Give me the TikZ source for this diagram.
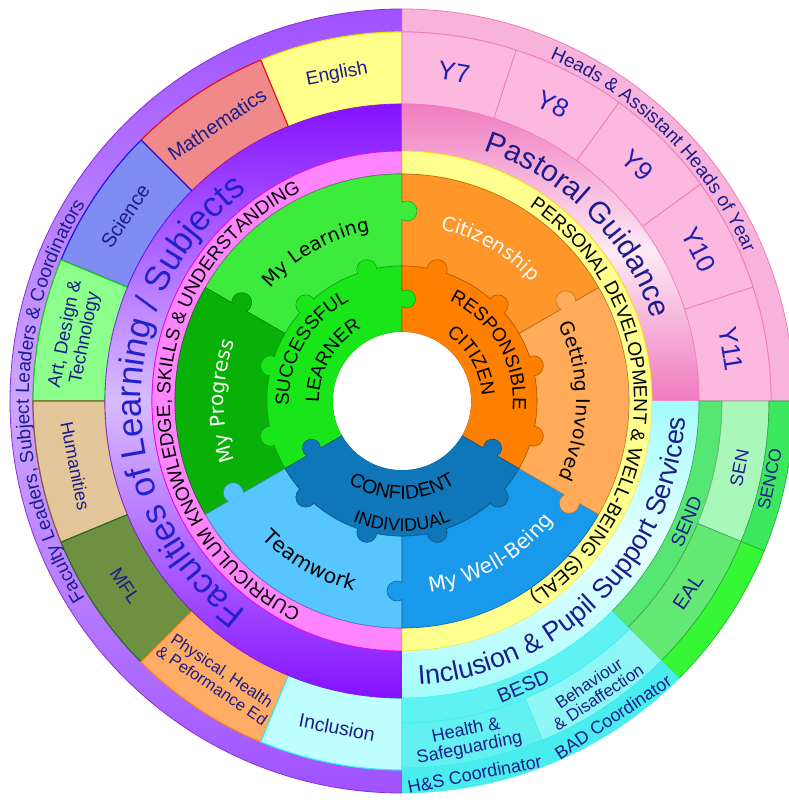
\documentclass[tikz,border=0pt]{standalone}
\usepackage{fontspec}
\setmainfont{Liberation Sans}
\newfontfamily\innerfont{DejaVu Sans}
\usetikzlibrary{decorations.text}

\definecolor{leadpurple}{HTML}{9F50FF}
\definecolor{leadlight}{HTML}{CDA6FF}
\definecolor{leadline}{HTML}{8A2BE2}
\definecolor{engfill}{HTML}{FFFF8C}
\definecolor{engline}{HTML}{F2E200}
\definecolor{mathfill}{HTML}{F08A8A}
\definecolor{mathline}{HTML}{E8101A}
\definecolor{scifill}{HTML}{7F8CF2}
\definecolor{sciline}{HTML}{1A1AE6}
\definecolor{adtfill}{HTML}{8CFF8C}
\definecolor{adtline}{HTML}{1FCC1F}
\definecolor{humfill}{HTML}{E3C79B}
\definecolor{humline}{HTML}{8C5A2E}
\definecolor{mflfill}{HTML}{6E9141}
\definecolor{mflline}{HTML}{2F6B1E}
\definecolor{pefill}{HTML}{FFAD66}
\definecolor{peline}{HTML}{FF8C1A}
\definecolor{inclfill}{HTML}{BFFFFF}
\definecolor{inclline}{HTML}{33EEEE}
\definecolor{facdark}{HTML}{8410FF}
\definecolor{faclight}{HTML}{D8BCFF}
\definecolor{currpink}{HTML}{FF85FF}
\definecolor{currline}{HTML}{F000F0}
\definecolor{headpink}{HTML}{F8B3DA}
\definecolor{yearfill}{HTML}{FCB8DE}
\definecolor{yearline}{HTML}{EE7DBE}
\definecolor{pastdark}{HTML}{F07ABF}
\definecolor{pastlight}{HTML}{FDEAF5}
\definecolor{sealyellow}{HTML}{FFFF8F}
\definecolor{sealline}{HTML}{FFE000}
\definecolor{incdark}{HTML}{A4FCFC}
\definecolor{inclight}{HTML}{E6FFFF}
\definecolor{sendgreen}{HTML}{55E673}
\definecolor{sengreen}{HTML}{A9F7B9}
\definecolor{ealgreen}{HTML}{62E873}
\definecolor{sencogreen}{HTML}{3BE85E}
\definecolor{brightgreen}{HTML}{36F736}
\definecolor{besdcyan}{HTML}{5EF2F2}
\definecolor{hscyan}{HTML}{62F0F0}
\definecolor{badcyan}{HTML}{8FF6F6}
\definecolor{coordcyan}{HTML}{4AEDED}
\definecolor{learnergreen}{HTML}{19E619}
\definecolor{citizenorange}{HTML}{FF7F00}
\definecolor{confidentblue}{HTML}{0F76B9}
\definecolor{mylearning}{HTML}{3DEB3D}
\definecolor{myprogress}{HTML}{08B008}
\definecolor{teamwork}{HTML}{57C6FF}
\definecolor{wellbeing}{HTML}{1899EB}
\definecolor{involved}{HTML}{FFAB5A}
\definecolor{citizenship}{HTML}{FF9629}
\definecolor{navytext}{HTML}{1C1C8C}
\definecolor{titleblue}{HTML}{2222C8}
\definecolor{yeartext}{HTML}{2020B0}

% ring sector: style, inner radius, outer radius, start angle, end angle
\newcommand{\ringpiece}[5]{\path[#1] (#4:#2pt) arc[start angle=#4,end angle=#5,radius=#2pt] -- (#5:#3pt) arc[start angle=#5,end angle=#4,radius=#3pt] -- cycle;}
% text on an arc: radius, from, to, format, text
\newcommand{\arclabel}[5]{\path[decorate,decoration={text along path,text align=center,text={|#4|#5}}] (#2:#1pt) arc[start angle=#2,end angle=#3,radius=#1pt];}
% puzzle tab: colour, edge angle, radius, side, size
\newcommand{\jigtab}[5]{%
  \fill[#1,rotate=#2] (#3,#4*#5/2) circle[radius=#5pt];
  \begin{scope}
    \clip[rotate=#2] (0,0) rectangle (420,#4*420);
    \draw[#1!70!black,line width=0.6pt,rotate=#2] (#3,#4*#5/2) circle[radius=#5pt];
  \end{scope}}

\begin{document}
\begin{tikzpicture}[x=1pt,y=1pt,
  piece/.style={fill=#1,draw=#1!70!black,line width=0.6pt},
  subj/.style={text=navytext,font=\fontsize{19}{20}\selectfont,align=center,inner sep=0pt},
  yearlbl/.style={text=yeartext,font=\fontsize{26}{26}\selectfont,inner sep=0pt},
  svc/.style={text=navytext,font=\fontsize{18}{18}\selectfont,align=center,inner sep=0pt}]
\useasboundingbox (-402,-399) rectangle (386,401);
\fill[white] (-402,-399) rectangle (386,401);

% faculties half
\begin{scope}
  \ringpiece{clip}{369}{392}{90}{270}
  \shade[top color=leadpurple,bottom color=leadpurple,middle color=leadlight] (-400,-400) rectangle (0,400);
\end{scope}
\ringpiece{draw=leadline,line width=0.8pt}{369}{392}{90}{270}
\foreach \a/\b/\c/\d in {90/112.5/engfill/engline,112.5/135/mathfill/mathline,135/157.5/scifill/sciline,157.5/180/adtfill/adtline,180/202.5/humfill/humline,202.5/225/mflfill/mflline,225/247.5/pefill/peline,247.5/270/inclfill/inclline}
  {\ringpiece{fill=\c,draw=\d,line width=1.2pt}{297}{369}{\a}{\b}}
\begin{scope}
  \ringpiece{clip}{250}{297}{90}{270}
  \shade[top color=facdark,bottom color=facdark,middle color=faclight] (-300,-300) rectangle (0,300);
\end{scope}
\ringpiece{draw=facdark,line width=0.6pt}{250}{297}{90}{270}
\ringpiece{fill=currpink,draw=currline,line width=0.8pt}{227}{250}{90}{270}

% pastoral quarter
\ringpiece{fill=headpink,draw=yearline,line width=0.8pt}{369}{392}{0}{90}
\foreach \a [evaluate=\a as \b using \a+18] in {0,18,36,54,72}
  {\ringpiece{fill=yearfill,draw=yearline,line width=0.8pt}{297}{369}{\a}{\b}}
\begin{scope}
  \ringpiece{clip}{250}{297}{0}{90}
  \shade[shading angle=45,top color=pastdark,bottom color=pastdark,middle color=pastlight] (0,0) rectangle (300,300);
\end{scope}
\ringpiece{draw=yearline,line width=0.6pt}{250}{297}{0}{90}
\ringpiece{fill=sealyellow,draw=sealline,line width=0.8pt}{227}{250}{-90}{90}

% inclusion quarter
\begin{scope}
  \ringpiece{clip}{250}{297}{-90}{0}
  \shade[shading angle=-45,top color=incdark,bottom color=incdark,middle color=inclight] (0,0) rectangle (300,-300);
\end{scope}
\ringpiece{piece=sendgreen}{297}{320}{-45}{0}
\ringpiece{piece=sengreen}{320}{367}{-22.5}{0}
\ringpiece{piece=ealgreen}{320}{367}{-45}{-22.5}
\ringpiece{piece=sencogreen}{367}{392}{-22.5}{0}
\ringpiece{piece=brightgreen}{367}{392}{-45}{-22.5}
\ringpiece{fill=besdcyan,draw=inclline}{297}{322}{-90}{-45}
\ringpiece{fill=hscyan,draw=inclline}{322}{367}{-90}{-67.5}
\ringpiece{fill=badcyan,draw=inclline}{322}{367}{-67.5}{-45}
\ringpiece{fill=coordcyan,draw=inclline}{367}{392}{-90}{-67.5}
\ringpiece{fill=coordcyan,draw=inclline}{367}{392}{-67.5}{-45}

% six outcome pieces
\ringpiece{piece=mylearning}{135}{227}{90}{150}
\ringpiece{piece=myprogress}{135}{227}{150}{210}
\ringpiece{piece=teamwork}{135}{227}{210}{270}
\ringpiece{piece=wellbeing}{135}{227}{270}{330}
\ringpiece{piece=involved}{135}{227}{-30}{30}
\ringpiece{piece=citizenship}{135}{227}{30}{90}
\foreach \c/\a/\r/\s in {mylearning/90/190/-1,involved/30/192/1,involved/-30/196/-1,wellbeing/270/190/-1,teamwork/210/192/-1,myprogress/150/188/-1}
  {\jigtab{\c}{\a}{\r}{\s}{10}}

% gear
\foreach \a/\c in {105/learnergreen,135/learnergreen,165/learnergreen,195/learnergreen,-15/citizenorange,15/citizenorange,45/citizenorange,75/citizenorange,225/confidentblue,255/confidentblue,285/confidentblue,315/confidentblue}
  \filldraw[fill=\c,draw=\c!70!black,line width=0.6pt] (\a:136pt) circle[radius=10pt];
\ringpiece{piece=learnergreen}{69}{135}{90}{210}
\ringpiece{piece=citizenorange}{69}{135}{-30}{90}
\ringpiece{piece=confidentblue}{69}{135}{210}{330}
\foreach \a/\c in {105/learnergreen,135/learnergreen,165/learnergreen,195/learnergreen,-15/citizenorange,15/citizenorange,45/citizenorange,75/citizenorange,225/confidentblue,255/confidentblue,285/confidentblue,315/confidentblue}
  \fill[\c] (\a:136pt) circle[radius=9.2pt];
\foreach \c/\a/\s in {learnergreen/90/-1,confidentblue/210/-1,confidentblue/330/1}
  {\jigtab{\c}{\a}{102}{\s}{9}}
\fill[white] (0,0) circle[radius=69pt];

% ring titles
\arclabel{373}{240}{120}{\fontsize{19}{19}\selectfont\color{navytext}}{Faculty Leaders, Subject Leaders {\&} Coordinators}
\arclabel{373}{90}{0}{\fontsize{19}{19}\selectfont\color{navytext}}{Heads {\&} Assistant Heads of Year}
\arclabel{261}{265}{95}{\fontsize{35}{35}\selectfont\color{titleblue}}{Faculties of Learning / Subjects}
\arclabel{263}{90}{0}{\fontsize{30}{30}\selectfont\color{navytext}}{Pastoral Guidance}
\arclabel{284}{-95}{5}{\fontsize{27}{27}\selectfont\color{navytext}}{Inclusion {\&} Pupil Support Services}
\arclabel{232}{265}{95}{\fontsize{19}{19}\selectfont\color{black}}{CURRICULUM KNOWLEDGE, SKILLS {\&} UNDERSTANDING}
\arclabel{232}{90}{-90}{\fontsize{19}{19}\selectfont\color{black}}{PERSONAL DEVELOPMENT {\&} WELL-BEING (SEAL)}

% outcome labels
\arclabel{173}{150}{90}{\innerfont\fontsize{19}{19}\selectfont\color{black}}{My Learning}
\arclabel{176}{90}{30}{\innerfont\fontsize{19.5}{19}\selectfont\color{white}}{Citizenship}
\arclabel{174}{30}{-30}{\innerfont\fontsize{19}{19}\selectfont\color{black}}{Getting Involved}
\arclabel{193}{-90}{-30}{\innerfont\fontsize{20.5}{19}\selectfont\color{white}}{My Well-Being}
\arclabel{196}{210}{270}{\innerfont\fontsize{20.5}{19}\selectfont\color{black}}{Teamwork}
\arclabel{178}{210}{150}{\innerfont\fontsize{20}{19}\selectfont\color{white}}{My Progress}
\arclabel{113}{210}{90}{\fontsize{19}{19}\selectfont\color{black}}{SUCCESSFUL}
\arclabel{83}{210}{90}{\fontsize{19}{19}\selectfont\color{black}}{LEARNER}
\arclabel{111}{90}{-30}{\fontsize{19}{19}\selectfont\color{black}}{RESPONSIBLE}
\arclabel{80}{90}{-30}{\fontsize{19}{19}\selectfont\color{black}}{CITIZEN}
\arclabel{98}{210}{330}{\fontsize{19.5}{19}\selectfont\color{black}}{CONFIDENT}
\arclabel{130}{210}{330}{\fontsize{18}{18}\selectfont\color{black}}{INDIVIDUAL}

% subject boxes
\node (english) at (101.25:333pt) [subj,rotate=11.25] {English};
\node (maths) at (123.75:333pt) [subj,rotate=33.75,font=\fontsize{20}{20}\selectfont] {Mathematics};
\node (science) at (146.25:333pt) [subj,rotate=56.25,font=\fontsize{20}{20}\selectfont] {Science};
\node (adt) at (168.75:333pt) [subj,rotate=78.75,font=\fontsize{18.5}{20}\selectfont] {Art, Design \&\\Technology};
\node (humanities) at (191.25:333pt) [subj,rotate=-78.75,font=\fontsize{18}{18}\selectfont] {Humanities};
\node (mfl) at (213.75:333pt) [subj,rotate=-56.25] {MFL};
\node (pe) at (236.25:333pt) [subj,rotate=-33.75,font=\fontsize{16.5}{18}\selectfont] {Physical, Health\\\& Peformance Ed};
\node (inclusion) at (258.75:333pt) [subj,rotate=-11.25,font=\fontsize{19.5}{20}\selectfont] {Inclusion};

% year boxes
\foreach \a [count=\i from 7, evaluate=\a as \m using 81-18*(\i-7)] in {72,54,36,18,0}
  \node (y\i) at (\m:333pt) [yearlbl,rotate=\m-90] {Y\i};

% support services
\node (send) at (-23:309pt) [svc,rotate=67,font=\fontsize{19}{19}\selectfont] {SEND};
\node (sen) at (-11.25:344pt) [svc,rotate=78.75] {SEN};
\node (eal) at (-33.75:344pt) [svc,rotate=56.25,font=\fontsize{20}{20}\selectfont] {EAL};
\node (senco) at (-12:376pt) [svc,rotate=78,font=\fontsize{17.5}{17.5}\selectfont] {SENCO};
\node (besd) at (-67:310pt) [svc,rotate=23,font=\fontsize{20}{20}\selectfont] {BESD};
\node (health) at (-79:345pt) [svc,rotate=11.25] {Health \&\\Safeguarding};
\node (behaviour) at (-56.5:347pt) [svc,rotate=33.75,font=\fontsize{17}{17}\selectfont] {Behaviour\\\& Disaffection};
\node (hscoord) at (-79:380pt) [svc,rotate=11.25] {H\&S Coordinator};
\node (badcoord) at (-56.25:380pt) [svc,rotate=33.75] {BAD Coordinator};
\end{tikzpicture}
\end{document}
